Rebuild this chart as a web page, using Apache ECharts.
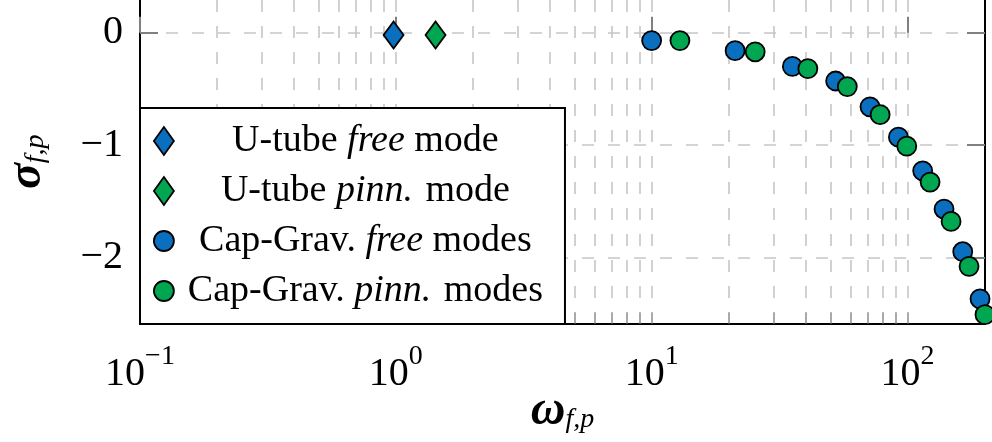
<!DOCTYPE html>
<html>
<head>
<meta charset="utf-8">
<script src="https://cdn.jsdelivr.net/npm/echarts@6/dist/echarts.min.js"></script>
<style>
    html, body { margin: 0; padding: 0; background: #fff; }
    #main { width: 992px; height: 442px; }
</style>
</head>
<body>
<div id="main"></div>
<script>
// data
var uFreeX = [0.98];
var uFreeY = [-0.02];
var uPinnX = [1.43];
var uPinnY = [-0.02];
var cgFreeX = [10.0, 21.2, 35.5, 52.4, 71.4, 92.2, 114.7, 139, 164.5, 192.2];
var cgFreeY = [-0.07, -0.16, -0.30, -0.43, -0.66, -0.93, -1.23, -1.57, -1.95, -2.37];
var cgPinnX = [12.9, 25.4, 40.8, 58.2, 78.2, 99.4, 122.6, 148.1, 174.1, 201];
var cgPinnY = [-0.07, -0.17, -0.32, -0.48, -0.73, -1.01, -1.33, -1.68, -2.08, -2.51];

var seriesNames = ['U-tube free mode', 'U-tube pinn. mode', 'Cap-Grav. free modes', 'Cap-Grav. pinn. modes'];
var xLabelTicks = [0.1, 1, 10, 100];
var xGridTicks = [0.1, 0.2, 0.3, 0.4, 0.5, 0.6, 0.7, 0.8, 0.9,
    1, 2, 3, 4, 5, 6, 7, 8, 9,
    10, 20, 30, 40, 50, 60, 70, 80, 90,
    100, 200];
var yTicks = [-2, -1, 0];

(function () {
    var blue = '#0b6fbf';
    var green = '#00a650';
    var font = '"Liberation Serif", "Times New Roman", serif';
    var gridColor = '#c6c6c6';

    var legendText = {
        'U-tube free mode': '{n|U-tube }{i|free}{n| mode}',
        'U-tube pinn. mode': '{n|U-tube }{i|pinn.}{g| mode}',
        'Cap-Grav. free modes': '{n|Cap-Grav. }{i|free}{n| modes}',
        'Cap-Grav. pinn. modes': '{n|Cap-Grav. }{i|pinn.}{g| modes}'
    };

    function pairs(xs, ys) {
        return xs.map(function (x, i) { return [x, ys[i]]; });
    }

    var chart = echarts.init(document.getElementById('main'));

    var pointStyle = function (c) {
        return { color: c, borderColor: '#000', borderWidth: 1.8, opacity: 1 };
    };

    // axis name: greek letter with an italic subscript
    var nameRich = {
        w: { fontFamily: font, fontSize: 48, fontStyle: 'italic', fontWeight: 'bold', lineHeight: 46, verticalAlign: 'top' },
        s: { fontFamily: font, fontSize: 28, fontStyle: 'italic', lineHeight: 16, verticalAlign: 'bottom' }
    };

    var option = {
        animation: false,
        textStyle: { fontFamily: font, color: '#000' },
        grid: { left: 140, right: 7, top: 0, bottom: 118.5, containLabel: false, outerBoundsMode: 'none' },
        xAxis: [{
            type: 'log',
            min: 0.1,
            max: 201,
            name: '{w|ω}{s|f,p}',
            nameLocation: 'middle',
            nameGap: 64,
            nameMoveOverlap: false,
            nameTextStyle: { rich: nameRich },
            axisLine: { show: true, onZero: false, lineStyle: { color: '#000', width: 2 } },
            axisTick: { show: true, inside: true, length: 11, customValues: xGridTicks, lineStyle: { color: '#a0a0a0', width: 1.6 } },
            axisLabel: {
                customValues: xLabelTicks,
                margin: 19,
                formatter: function (v) {
                    var e = Math.round(Math.log10(v));
                    return '{b|10}{s|' + String(e).replace('-', '−') + '}';
                },
                rich: {
                    b: { fontFamily: font, fontSize: 40, lineHeight: 52, verticalAlign: 'bottom', color: '#000' },
                    s: { fontFamily: font, fontSize: 28, lineHeight: 10, verticalAlign: 'top', color: '#000' }
                }
            },
            splitLine: { show: true, lineStyle: { color: gridColor, width: 1.6, type: [12, 14] } }
        }, {
            // longer, darker ticks at the decades
            type: 'log',
            position: 'bottom',
            min: 0.1,
            max: 201,
            axisLine: { show: false },
            axisTick: { show: true, inside: true, length: 16, customValues: xLabelTicks, lineStyle: { color: '#808080', width: 2 } },
            axisLabel: { show: false },
            splitLine: { show: false }
        }],
        yAxis: [{
            type: 'value',
            min: -2.589,
            max: 0.291,
            name: '{w|σ}{s|f,p}',
            nameLocation: 'middle',
            nameRotate: 90,
            nameGap: 90,
            nameMoveOverlap: false,
            nameTextStyle: { rich: nameRich },
            axisLine: { show: true, onZero: false, lineStyle: { color: '#000', width: 2 } },
            axisTick: { show: true, inside: true, length: 18, customValues: yTicks, lineStyle: { color: '#808080', width: 2 } },
            axisLabel: {
                customValues: yTicks,
                margin: 17,
                fontFamily: font,
                fontSize: 40,
                color: '#000',
                formatter: function (v) { return String(v).replace('-', '−'); }
            },
            splitLine: { show: true, lineStyle: { color: gridColor, width: 1.6, type: [12, 14] } }
        }, {
            type: 'value',
            position: 'right',
            min: -2.589,
            max: 0.291,
            axisLine: { show: true, onZero: false, lineStyle: { color: '#000', width: 2 } },
            axisTick: { show: true, inside: true, length: 18, customValues: yTicks, lineStyle: { color: '#808080', width: 2 } },
            axisLabel: { show: false },
            splitLine: { show: false }
        }],
        legend: {
            orient: 'vertical',
            left: 140,
            top: 108,
            padding: [14, 22, 14, 13],
            itemGap: 12,
            itemWidth: 20,
            itemHeight: 28,
            selectedMode: false,
            backgroundColor: '#fff',
            borderColor: '#000',
            borderWidth: 2,
            borderRadius: 0,
            z: 10,
            data: [
                { name: seriesNames[0], icon: 'path://M10 0L20 14L10 28L0 14Z' },
                { name: seriesNames[1], icon: 'path://M10 0L20 14L10 28L0 14Z' },
                { name: seriesNames[2], icon: 'circle' },
                { name: seriesNames[3], icon: 'circle' }
            ],
            itemStyle: { borderColor: '#000', borderWidth: 1.8 },
            formatter: function (name) { return legendText[name]; },
            textStyle: {
                width: 373,
                rich: {
                    n: { fontFamily: font, fontSize: 38, lineHeight: 38, align: 'center', color: '#000' },
                    g: { fontFamily: font, fontSize: 38, lineHeight: 38, align: 'center', color: '#000', padding: [0, 0, 0, 3] },
                    i: { fontFamily: font, fontSize: 38, lineHeight: 38, fontStyle: 'italic', align: 'center', color: '#000' }
                }
            }
        },
        series: [{
            name: seriesNames[0],
            type: 'scatter',
            symbol: 'diamond',
            symbolSize: [20, 27],
            clip: false,
            itemStyle: pointStyle(blue),
            data: pairs(uFreeX, uFreeY)
        }, {
            name: seriesNames[1],
            type: 'scatter',
            symbol: 'diamond',
            symbolSize: [20, 27],
            clip: false,
            itemStyle: pointStyle(green),
            data: pairs(uPinnX, uPinnY)
        }, {
            name: seriesNames[2],
            type: 'scatter',
            symbol: 'circle',
            symbolSize: 19,
            clip: false,
            itemStyle: pointStyle(blue),
            data: pairs(cgFreeX, cgFreeY)
        }, {
            name: seriesNames[3],
            type: 'scatter',
            symbol: 'circle',
            symbolSize: 19,
            clip: false,
            itemStyle: pointStyle(green),
            data: pairs(cgPinnX, cgPinnY)
        }]
    };

    chart.setOption(option);
})();
</script>
</body>
</html>
